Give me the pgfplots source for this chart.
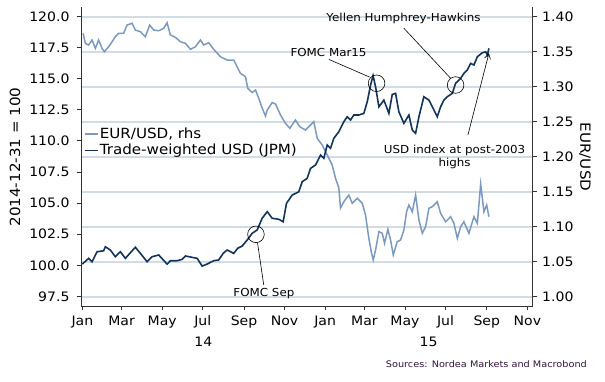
\documentclass[border=0pt]{standalone}
\usepackage{fontspec}
\setmainfont{DejaVu Sans}[FakeStretch=1.08]
\usepackage{pgfplots}
\usepackage{pgfplotstable}
\pgfplotsset{compat=1.18}
\usetikzlibrary{arrows.meta}
\definecolor{usd}{RGB}{16,52,94}
\definecolor{eur}{RGB}{122,154,194}
\definecolor{gridc}{RGB}{210,220,229}
\definecolor{srcc}{RGB}{50,20,60}

\pgfplotstableread{
d v
0 100.10
9.5 100.56
14.6 100.29
22.1 101.09
32.0 101.17
34.6 101.49
42.1 101.23
49.6 100.69
57.2 101.09
64.7 100.56
72.2 101.01
79.7 101.45
87.3 100.96
97.3 100.29
104.9 100.69
114.8 100.83
127.4 100.10
132.4 100.37
142.5 100.37
150.0 100.48
155.0 100.75
165.0 100.64
172.6 100.56
180.1 99.94
187.6 100.10
197.5 100.37
205.0 100.43
211.7 100.96
217.7 101.23
227.6 100.96
233.6 101.37
240.3 101.55
247.8 102.03
255.3 102.57
262.8 102.84
270.3 103.78
277.9 104.31
285.4 103.78
295.3 103.70
301.9 103.50
306.9 104.98
315.5 105.65
325.4 105.91
330.5 106.72
338.0 106.99
343.0 107.79
350.5 108.06
358.1 108.86
363.0 108.60
368.1 109.67
373.1 109.40
378.1 110.21
385.6 110.74
393.1 111.54
398.2 111.94
403.2 111.68
408.1 112.08
415.7 112.08
423.2 112.21
428.3 113.15
433.3 114.49
437.0 115.25
440.8 114.35
445.8 112.74
453.3 113.28
460.8 112.21
465.9 113.73
470.9 113.82
475.8 112.34
483.4 111.41
490.9 112.08
496.0 110.87
501.0 110.61
506.0 111.94
513.4 113.55
521.0 113.28
526.1 112.74
533.6 111.94
538.6 112.74
543.5 113.28
548.7 113.55
556.2 113.82
561.1 114.63
568.7 115.03
573.6 115.43
578.7 115.69
583.7 116.23
588.7 116.10
593.8 116.76
601.3 117.08
606.3 117.16
608.8 116.90
611.2 117.44
}\usdtable

\pgfplotstableread{
d r
1.1 1.3763
4.5 1.3620
9.5 1.3596
14.6 1.3667
19.6 1.3549
24.5 1.3667
29.6 1.3549
33.1 1.3500
39.6 1.3571
44.7 1.3643
49.6 1.3714
54.6 1.3763
62.1 1.3763
67.2 1.3881
74.8 1.3906
79.7 1.3810
87.3 1.3786
94.8 1.3714
101.2 1.3881
107.3 1.3810
114.8 1.3800
122.3 1.3834
127.4 1.3914
132.4 1.3739
139.9 1.3706
147.4 1.3643
155.0 1.3620
162.5 1.3534
170.0 1.3571
177.5 1.3667
182.5 1.3596
190.0 1.3629
197.5 1.3534
207.6 1.3429
217.7 1.3381
227.6 1.3381
232.7 1.3286
237.7 1.3191
245.2 1.3143
248.7 1.2977
255.3 1.2917
260.3 1.2953
265.2 1.2834
270.3 1.2696
275.3 1.2581
277.9 1.2667
285.4 1.2774
290.4 1.2753
297.9 1.2596
305.4 1.2477
311.9 1.2406
320.4 1.2524
326.9 1.2429
335.5 1.2381
343.0 1.2453
348.0 1.2500
353.1 1.2263
360.6 1.2167
368.1 1.2024
375.6 1.1881
380.6 1.1691
385.6 1.1553
388.1 1.1267
393.1 1.1357
400.6 1.1453
405.7 1.1334
413.3 1.1406
420.8 1.1334
425.7 1.1167
430.7 1.0834
434.3 1.0643
437.3 1.0524
440.8 1.0667
445.8 1.0929
450.9 1.0906
454.3 1.0763
459.3 1.0963
463.4 1.0810
467.4 1.0596
473.4 1.0786
478.4 1.0810
483.4 1.0953
487.4 1.1214
490.9 1.1310
496.0 1.1214
501.0 1.1453
506.0 1.1096
511.1 1.0906
516.0 1.1000
521.0 1.1263
526.1 1.1286
533.6 1.1357
538.6 1.1191
546.1 1.1071
553.6 1.1143
558.6 1.1049
563.7 1.0834
568.7 1.1000
573.6 1.1071
581.1 1.0906
588.7 1.1143
593.8 1.1049
598.8 1.1610
603.7 1.1214
607.8 1.1310
611.2 1.1143
}\eurtable

\begin{document}
\begin{tikzpicture}
\useasboundingbox (-81pt,-75pt) rectangle (524pt,306pt);
% right axis: EUR/USD with grid
\begin{axis}[
  scale only axis, width=451.7pt, height=299pt,
  xmin=-2, xmax=677, ymin=0.9867, ymax=1.4139,
  axis x line=none, axis y line*=right,
  ytick={1.00,1.05,1.10,1.15,1.20,1.25,1.30,1.35,1.40},
  ymajorgrids, grid style={gridc, line width=1.7pt},
  tick align=outside, major tick length=4pt,
  every tick/.style={black!80, line width=0.8pt},
  y axis line style={line width=0.9pt, black!80},
  yticklabel style={font=\fontsize{13}{15}\selectfont, xshift=2pt,
    /pgf/number format/.cd, fixed, fixed zerofill, precision=2, assume math mode=true},
]
\addplot[eur, line width=1.5pt] table[x=d, y=r] {\eurtable};
\end{axis}
% left axis: trade-weighted USD
\begin{axis}[
  scale only axis, width=451.7pt, height=299pt,
  xmin=-2, xmax=677, ymin=96.73, ymax=120.76, clip=false,
  axis x line*=bottom, axis y line*=left,
  xtick={0,59,120,181,243,304,365,424,485,546,608,669},
  xticklabels={Jan,Mar,May,Jul,Sep,Nov,Jan,Mar,May,Jul,Sep,Nov},
  ytick={97.5,100,102.5,105,107.5,110,112.5,115,117.5,120},
  tick align=outside, major tick length=4pt,
  every tick/.style={black!80, line width=0.8pt},
  axis line style={line width=0.9pt, black!80},
  yticklabel style={font=\fontsize{13}{15}\selectfont, xshift=-4pt,
    /pgf/number format/.cd, fixed, fixed zerofill, precision=1, assume math mode=true},
  xticklabel style={font=\fontsize{13}{15}\selectfont, yshift=-2pt},
  legend style={at={(0.0066,0.599)}, anchor=north west, draw=none, fill=none,
    font=\fontsize{14}{17}\selectfont, inner sep=0pt, row sep=2pt,
    nodes={inner sep=1pt}},
  legend cell align=left,
  legend image code/.code={\draw[#1] (0pt,0pt) -- (13pt,0pt);},
]
\addlegendimage{eur, line width=1.5pt}
\addlegendentry{EUR/USD, rhs}
\addplot[usd, line width=1.6pt] table[x=d, y=v] {\usdtable};
\addlegendentry{Trade-weighted USD (JPM)}
% annotations
\draw[black, line width=0.6pt] (axis cs:261.0,102.49) circle[radius=8.3pt];
\draw[black, line width=0.6pt] (axis cs:263.3,101.83) -- (axis cs:272.7,98.42);
\node[font=\fontsize{11}{13}\selectfont] at (axis cs:273.0,97.69) {FOMC Sep};
\draw[black, line width=0.6pt] (axis cs:442.3,114.63) circle[radius=8.3pt];
\draw[black, line width=0.6pt] (axis cs:370.5,116.55) -- (axis cs:431.8,115.13);
\node[font=\fontsize{11}{13}\selectfont] at (axis cs:370.1,117.14) {FOMC Mar15};
\draw[black, line width=0.6pt] (axis cs:561.1,114.49) circle[radius=8.3pt];
\draw[black, line width=0.6pt] (axis cs:483.4,119.05) -- (axis cs:553.6,115.03);
\node[font=\fontsize{11}{13}\selectfont] at (axis cs:482.9,119.85) {Yellen Humphrey-Hawkins};
\draw[black, line width=0.6pt, -{Straight Barb[length=5pt,width=6pt]}] (axis cs:579.6,110.47) -- (axis cs:611.2,117.04);
\node[font=\fontsize{11}{13.3}\selectfont, align=center] at (axis cs:559.6,108.73) {USD index at post-2003\\highs};
\node[font=\fontsize{13}{15}\selectfont] at (axis cs:182,96.73) [yshift=-36pt] {14};
\node[font=\fontsize{13}{15}\selectfont] at (axis cs:520.5,96.73) [yshift=-36pt] {15};
\end{axis}
\node[rotate=90, font=\fontsize{14}{16}\selectfont] at (-66pt,149pt) {2014-12-31 = 100};
\node[rotate=-90, font=\fontsize{14}{16}\selectfont] at (504pt,149pt) {EUR/USD};
\node[anchor=east, font=\fontsize{9}{11}\selectfont, text=srcc, inner sep=0pt] at (506pt,-58.3pt) {Sources: Nordea Markets and Macrobond};
\end{tikzpicture}
\end{document}
